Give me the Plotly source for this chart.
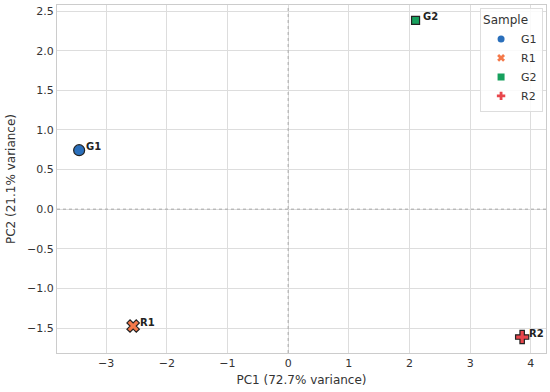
import plotly.graph_objects as go

samples = ["G1", "R1", "G2", "R2"]
pc1 = [-3.445, -2.555, 2.10, 3.857]
pc2 = [0.744, -1.475, 2.383, -1.614]
colors = ["#2a6fbb", "#f4794a", "#17a05d", "#e8464c"]
symbols = ["circle", "x", "square", "cross"]
sizes = [11, 11, 8, 11]
x_ticks = [-3, -2, -1, 0, 1, 2, 3, 4]
y_ticks = [-1.5, -1.0, -0.5, 0.0, 0.5, 1.0, 1.5, 2.0, 2.5]

fig = go.Figure()
for s, x, y, c, sym, sz in zip(samples, pc1, pc2, colors, symbols, sizes):
    fig.add_trace(go.Scatter(
        x=[x], y=[y], mode="markers", showlegend=False,
        marker=dict(color=c, symbol=sym, size=sz, line=dict(color="#222222", width=1.2)),
    ))
    fig.add_annotation(x=x, y=y, text="<b>" + s + "</b>", showarrow=False,
                       xanchor="left", yanchor="middle", xshift=5, yshift=4,
                       font=dict(size=10, color="#222222", family="DejaVu Sans"))
# legend entries
for s, c, sym in zip(samples, colors, symbols):
    fig.add_trace(go.Scatter(
        x=[None], y=[None], mode="markers", name=s,
        marker=dict(color=c, symbol=sym, size=7, line=dict(width=0)),
    ))

fig.add_shape(type="line", xref="x", yref="paper", x0=0, x1=0, y0=0, y1=1,
              line=dict(color="#a8a8a8", width=1, dash="dot"))
fig.add_shape(type="line", xref="paper", yref="y", x0=0, x1=1, y0=0, y1=0,
              line=dict(color="#a8a8a8", width=1, dash="dot"))

fig.update_layout(
    width=550, height=392,
    margin=dict(l=57, r=4, t=5, b=39),
    paper_bgcolor="white", plot_bgcolor="white",
    font=dict(family="DejaVu Sans", color="#333333", size=11),
    legend=dict(
        title=dict(text="Sample", font=dict(size=12, color="#333333")),
        x=0.994, y=0.992, xanchor="right", yanchor="top",
        bgcolor="rgba(255,255,255,0.85)", bordercolor="#dddddd", borderwidth=1,
        font=dict(size=11, color="#333333"), tracegroupgap=0, itemwidth=30,
    ),
    xaxis=dict(
        range=[-3.81, 4.25], tickvals=x_ticks, tickformat="d", automargin=False,
        showgrid=True, gridcolor="#dddddd", gridwidth=1, zeroline=False,
        showline=True, linecolor="#cccccc", linewidth=1, mirror=True,
        ticks="", tickfont=dict(size=11, color="#333333"),
        title=dict(text="PC1 (72.7% variance)", font=dict(size=12, color="#333333"), standoff=6),
    ),
    yaxis=dict(
        range=[-1.815, 2.576], tickvals=y_ticks, tickformat=".1f", automargin=False,
        showgrid=True, gridcolor="#dddddd", gridwidth=1, zeroline=False,
        showline=True, linecolor="#cccccc", linewidth=1, mirror=True,
        ticks="", tickfont=dict(size=11, color="#333333"),
        title=dict(text="PC2 (21.1% variance)", font=dict(size=12, color="#333333"), standoff=8),
    ),
)

fig.write_html("out.html", config={"displayModeBar": False},
               post_script="document.body.style.margin='0';document.body.style.overflow='hidden';")
